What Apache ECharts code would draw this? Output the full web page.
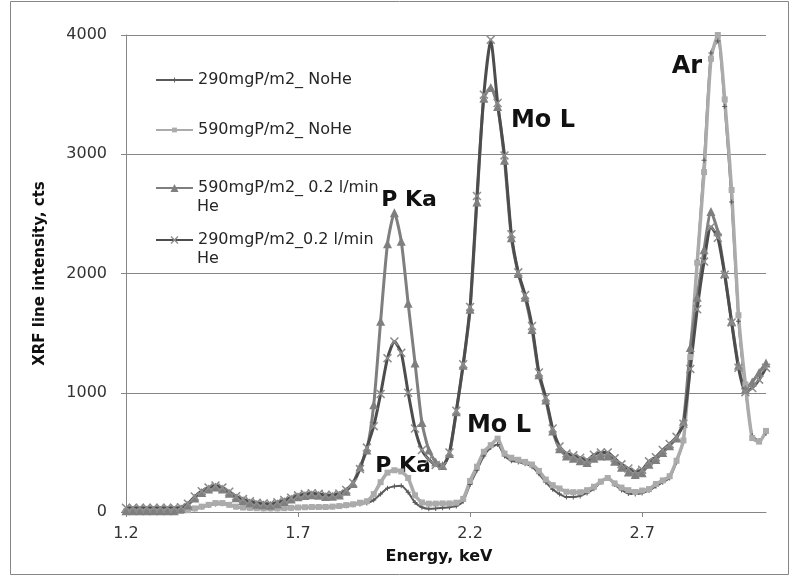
<!DOCTYPE html>
<html>
<head>
<meta charset="utf-8">
<title>XRF line intensity</title>
<script src="https://cdn.jsdelivr.net/npm/echarts@6/dist/echarts.min.js"></script>
<style>
  html, body { margin: 0; padding: 0; background: #fff; }
  #chart { width: 792px; height: 577px; }
</style>
</head>
<body>
<div id="chart"></div>
<script>
// energy channels, keV (category axis, one label every 25 channels)
const energies = [
  1.20, 1.22, 1.24, 1.26, 1.28, 1.30, 1.32, 1.34, 1.36, 1.38,
  1.40, 1.42, 1.44, 1.46, 1.48, 1.50, 1.52, 1.54, 1.56, 1.58,
  1.60, 1.62, 1.64, 1.66, 1.68, 1.70, 1.72, 1.74, 1.76, 1.78,
  1.80, 1.82, 1.84, 1.86, 1.88, 1.90, 1.92, 1.94, 1.96, 1.98,
  2.00, 2.02, 2.04, 2.06, 2.08, 2.10, 2.12, 2.14, 2.16, 2.18,
  2.20, 2.22, 2.24, 2.26, 2.28, 2.30, 2.32, 2.34, 2.36, 2.38,
  2.40, 2.42, 2.44, 2.46, 2.48, 2.50, 2.52, 2.54, 2.56, 2.58,
  2.60, 2.62, 2.64, 2.66, 2.68, 2.70, 2.72, 2.74, 2.76, 2.78,
  2.80, 2.82, 2.84, 2.86, 2.88, 2.90, 2.92, 2.94, 2.96, 2.98,
  3.00, 3.02, 3.04, 3.06
];

// counts
const noHe290 = [
  5, 5, 5, 5, 5, 5, 5, 5,
  8, 12, 25, 40, 55, 68, 70, 58, 42, 35, 32, 30, 28, 28, 28, 30, 32, 35, 38, 40, 40, 40, 42, 46, 52, 60,
  68, 75, 100, 150, 200, 215, 220, 165, 80, 40, 28, 30, 35, 40, 50,
  90, 230, 350, 470, 540, 565, 470, 430, 420, 405, 380, 320, 250, 190, 150, 125, 125, 135, 160, 195,
  250, 285, 230, 185, 155, 150, 160, 180, 215, 250, 285, 420, 600, 1300, 2100, 2950, 3850, 3950, 3400,
  2600, 1600, 1030, 640, 600, 660
];
const noHe590 = [
  5, 5, 5, 5, 5, 5, 5, 5,
  8, 15, 30, 45, 60, 75, 75, 60, 45, 38, 35, 32, 30, 30, 30, 32, 35, 38, 40, 42, 42, 42, 45, 50, 58, 65, 78, 90,
  150, 250, 330, 350, 340, 285, 140, 80, 70, 70, 72, 72, 78, 110, 260, 380, 505, 560, 615, 490, 455, 438,
  420, 398, 345, 272, 225, 197, 170, 166, 166, 183, 212, 255, 285, 240, 205, 183, 168, 180, 192, 235,
  265, 300, 430, 600, 1300, 2090, 2850, 3800, 4000, 3460, 2700, 1650, 1070, 620, 590, 680
];
const he590 = [
  10, 10, 10, 10, 10, 10, 10, 10,
  28, 58, 118, 163, 193, 210, 193, 158, 120, 96, 78, 66, 60, 57, 70, 88, 108, 128, 138, 145, 140, 131, 133, 143, 175, 240,
  380, 520, 900, 1600, 2250, 2510, 2270, 1750, 1250, 750, 520, 420, 390,
  490, 840, 1230, 1700, 2600, 3470, 3560, 3400, 2950, 2300, 2000, 1800, 1530, 1150, 940, 680, 530, 470, 450, 430,
  415, 450, 470, 470, 425, 375, 335, 315, 330, 400, 440, 500, 555, 620, 760, 1380, 1800, 2200, 2520, 2350,
  2000, 1600, 1230, 1030, 1090, 1170, 1250
];
const he290 = [
  35, 35, 35, 35, 35, 35, 35, 35,
  40, 70, 130, 175, 205, 222, 205, 170, 132, 108, 90, 78, 72, 69, 82, 100, 120, 140, 150, 157, 152, 143, 145, 155, 185, 245,
  360, 540, 720, 990, 1290, 1430, 1335, 1000, 700, 520, 440, 395, 385,
  500, 850, 1240, 1720, 2650, 3500, 3960, 3430, 2990, 2330, 2010, 1820, 1560, 1170, 960, 700, 550, 490, 475, 455,
  435, 480, 500, 500, 450, 400, 365, 340, 355, 425, 460, 520, 570, 630, 740, 1200, 1700, 2100, 2390, 2300,
  1990, 1590, 1210, 1005, 1040, 1110, 1210
];

const seriesNames = [
  '290mgP/m2_ NoHe',
  '590mgP/m2_ NoHe',
  '590mgP/m2_ 0.2 l/min He',
  '290mgP/m2_0.2 l/min He'
];
const legendLabels = ['290mgP/m2_ NoHe', '590mgP/m2_ NoHe', '590mgP/m2_ 0.2 l/min', '290mgP/m2_0.2 l/min'];
const legendRows = [80, 130, 188, 240];
const yTicks = { min: 0, max: 4000, step: 1000 };

// peak labels
const peakLabels = [
  { text: 'P Ka', x: 409, y: 200, size: 22 },
  { text: 'P Ka', x: 403, y: 466, size: 22 },
  { text: 'Mo L', x: 543, y: 121, size: 24 },
  { text: 'Mo L', x: 499, y: 426, size: 24 },
  { text: 'Ar', x: 687, y: 67, size: 24 }
];

const FONT = 'DejaVu Sans';
const AXIS_GRAY = '#868686';
const plusPath = 'path://M4,0H6V4H10V6H6V10H4V6H0V4H4Z';
const crossPath = 'path://M0,1.2L1.2,0L5,3.8L8.8,0L10,1.2L6.2,5L10,8.8L8.8,10L5,6.2L1.2,10L0,8.8L3.8,5Z';

const chart = echarts.init(document.getElementById('chart'));

const legendSizes = [6, 6, 10, 10];
const legends = seriesNames.map((name, i) => ({
  data: [name],
  left: 155,
  top: legendRows[i] - 9,
  padding: 0,
  itemWidth: 37,
  itemHeight: legendSizes[i],
  selectedMode: false,
  formatter: legendLabels[i],
  textStyle: { fontFamily: FONT, fontSize: 16, color: '#262626', lineHeight: 18 }
}));

const option = {
  animation: false,
  backgroundColor: '#fff',
  grid: { left: 126, right: 26, top: 35, bottom: 65 },
  legend: legends,
  xAxis: {
    type: 'category',
    data: energies,
    boundaryGap: false,
    name: 'Energy, keV',
    nameLocation: 'middle',
    nameGap: 37,
    nameTextStyle: { fontFamily: FONT, fontSize: 16, fontWeight: 'bold', color: '#111', padding: [0, 14, 0, 0] },
    axisLine: { lineStyle: { color: AXIS_GRAY } },
    axisTick: { interval: 24, length: 5, lineStyle: { color: AXIS_GRAY } },
    axisLabel: { interval: 24, margin: 14, fontFamily: FONT, fontSize: 16, color: '#333' },
    splitLine: { show: false }
  },
  yAxis: {
    type: 'value',
    min: yTicks.min,
    max: yTicks.max,
    interval: yTicks.step,
    name: 'XRF line intensity, cts',
    nameLocation: 'middle',
    nameGap: 78,
    nameTextStyle: { fontFamily: FONT, fontSize: 15, fontWeight: 'bold', color: '#111' },
    axisLine: { show: true, lineStyle: { color: AXIS_GRAY } },
    axisTick: { show: true, length: 5, lineStyle: { color: AXIS_GRAY } },
    axisLabel: { margin: 19, fontFamily: FONT, fontSize: 16, color: '#333', formatter: v => String(v) },
    splitLine: { lineStyle: { color: AXIS_GRAY } }
  },
  series: [
    {
      name: seriesNames[0], type: 'line', data: noHe290, smooth: 0.2,
      symbol: plusPath, symbolSize: 5, showAllSymbol: true,
      lineStyle: { color: '#5a5a5a', width: 2 },
      itemStyle: { color: '#5a5a5a' }
    },
    {
      name: seriesNames[1], type: 'line', data: noHe590, smooth: 0.2,
      symbol: 'rect', symbolSize: 6, showAllSymbol: true,
      lineStyle: { color: '#ababab', width: 3.5 },
      itemStyle: { color: '#ababab' }
    },
    {
      name: seriesNames[2], type: 'line', data: he590, smooth: 0.2,
      symbol: 'triangle', symbolSize: 9, showAllSymbol: true,
      lineStyle: { color: '#7f7f7f', width: 3 },
      itemStyle: { color: '#7f7f7f' }
    },
    {
      name: seriesNames[3], type: 'line', data: he290, smooth: 0.2,
      symbol: crossPath, symbolSize: 9, showAllSymbol: true,
      lineStyle: { color: '#4d4d4d', width: 3 },
      itemStyle: { color: '#8c8c8c' }
    }
  ],
  graphic: [
    {
      type: 'rect', silent: true, z: -1,
      shape: { x: 10.5, y: 1.5, width: 778, height: 573 },
      style: { fill: 'none', stroke: AXIS_GRAY, lineWidth: 1 }
    },
    {
      type: 'text', left: 197, top: legendRows[2] + 11,
      style: { text: 'He', font: '16px "' + FONT + '"', fill: '#262626' }
    },
    {
      type: 'text', left: 197, top: legendRows[3] + 11,
      style: { text: 'He', font: '16px "' + FONT + '"', fill: '#262626' }
    }
  ].concat(peakLabels.map(p => ({
    type: 'text', x: p.x, y: p.y, silent: true,
    style: {
      text: p.text, fill: '#111', align: 'center', verticalAlign: 'middle',
      font: 'bold ' + p.size + 'px "' + FONT + '"'
    }
  })))
};

chart.setOption(option);
</script>
</body>
</html>
